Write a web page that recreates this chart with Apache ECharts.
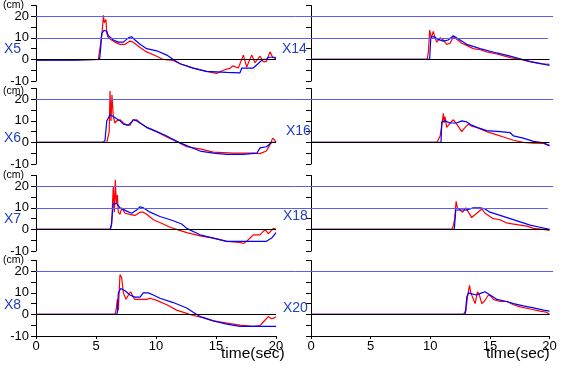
<!DOCTYPE html>
<html>
<head>
<meta charset="utf-8">
<script src="https://cdn.jsdelivr.net/npm/echarts@6/dist/echarts.min.js"></script>
<style>html,body{margin:0;padding:0;background:#fff}#c{width:562px;height:368px}</style>
</head>
<body>
<div id="c"></div>
<script>
// ---- data: [time (sec), displacement (cm)] ----
const x5Red = [[0,-0.3],[2,-0.2],[3.2,-0.2],[3.3,0],[5.2,0],[5.35,0.5],[5.5,12],[5.62,20.5],[5.7,17],[5.83,18.5],[5.9,12],[6.03,10],[6.3,9],[6.58,8],[7.0,7],[7.42,7],[7.83,8.5],[8.1,8],[8.67,5.5],[9.22,3.5],[10.06,1.5],[10.6,0],[11.44,-0.5],[12,-2],[13.1,-4],[14.2,-5.5],[15.06,-6.5],[15.6,-5],[16.2,-4],[16.4,-3],[16.86,-4],[17.28,2],[17.56,-3.5],[17.97,2],[18.25,-1.5],[18.67,1.5],[18.94,-1],[19.2,-1],[19.5,3.5],[19.72,1],[20,0.3]];
const x5Blue = [[0,-0.3],[3.2,-0.3],[3.25,0],[5.3,0],[5.4,6],[5.47,12],[5.67,13.5],[5.9,13],[6.03,11],[6.44,9],[6.86,8],[7.28,8],[7.69,10],[7.97,10.5],[8.25,9],[8.67,7],[9.22,5],[10.06,4],[10.9,2],[11.44,0],[12,-2],[13.1,-4],[14.2,-5.5],[15.9,-6],[17.0,-6.2],[17.15,-4],[18.1,-4],[18.5,-2],[18.9,0],[19.2,0],[19.36,1],[19.9,1],[20,0.5]];
const x14Red = [[0,0],[9.75,0],[9.85,4],[9.95,13.6],[10.1,10],[10.25,13],[10.4,10],[10.55,8],[10.83,10],[11.1,9],[11.38,7],[11.66,7.5],[11.94,10.5],[12.2,9.5],[12.64,7.5],[13.06,6.5],[13.6,5],[14.18,4.5],[14.74,3.5],[15.58,2.5],[16.7,0.8],[17.54,0],[18.38,-1],[19.2,-2],[20,-2.3]];
const x14Blue = [[0,0],[9.95,0],[10.05,10.5],[10.4,10.5],[10.55,9.5],[11.1,8.5],[11.5,9],[11.94,11],[12.5,9],[13.06,7],[14.18,5],[15.58,3],[16.7,1.5],[17.54,0.3],[18.38,-1],[19.2,-1.8],[20,-2.8]];
const x6Red = [[0,0],[5.9,0],[6.0,0.5],[6.1,5],[6.17,23.8],[6.25,10],[6.33,22],[6.44,12],[6.58,9],[6.72,10],[7.0,10.5],[7.28,9],[7.56,8],[7.83,8],[8.1,10.5],[8.39,10.5],[8.67,9],[9.22,7],[10.06,5],[10.9,2.5],[11.72,0.5],[12.56,-2],[13.67,-3],[14.78,-4.5],[16.44,-5],[18.1,-5],[18.67,-5.2],[19.2,-4],[19.5,-1],[19.72,2],[19.9,1],[20,0]];
const x6Blue = [[0,0],[5.6,0],[5.75,1],[5.9,10],[6.17,12.8],[6.44,12],[6.72,11],[7.0,10],[7.28,8.5],[7.7,8],[7.97,9.5],[8.1,10.5],[8.39,10],[8.67,9],[9.22,7],[10.06,5],[10.9,3],[11.72,0.5],[12.56,-1.5],[13.67,-4],[14.78,-5],[15.9,-5.5],[17.28,-5.5],[18.4,-5],[18.67,-2.5],[19.2,-2],[19.64,0],[20,0]];
const x16Red = [[0,0],[10.55,0],[10.7,0.5],[10.83,3],[10.97,8],[11.1,13.5],[11.16,9],[11.24,12],[11.38,7],[11.66,9],[11.94,10.5],[12.22,8.5],[12.64,5],[12.92,7],[13.2,8.5],[13.48,7.5],[13.9,7],[14.74,5],[15.58,3.5],[16.14,2.5],[16.98,1],[17.8,0],[18.66,-0.3],[19.5,-0.5],[20,-1.5]];
const x16Blue = [[0,0],[10.9,0],[10.97,9.5],[11.24,10],[11.66,9],[12.2,9],[12.64,10],[13.06,9.5],[13.48,8],[13.9,7],[14.74,5.5],[15.86,5],[16.7,4.5],[16.98,3],[17.8,2],[18.66,0.5],[19.5,-0.2],[20,-1.5]];
const x7Red = [[0,0],[6.17,0],[6.3,2],[6.44,20],[6.53,8],[6.61,23],[6.69,12],[6.78,16],[6.86,8],[7.0,7],[7.14,10],[7.28,9.5],[7.42,7.5],[7.83,7],[8.25,6.5],[8.67,8],[8.94,8],[9.22,7],[9.78,4.5],[10.6,2.5],[11.17,1],[11.72,0],[12.56,-1.5],[13.67,-3],[14.78,-4],[15.9,-5.5],[17.0,-6],[17.28,-6.5],[17.56,-5.5],[18.1,-2.5],[18.67,-2.5],[19.08,0],[19.36,-2],[19.78,0.5],[20,0]];
const x7Blue = [[0,0],[6.2,0],[6.3,3],[6.44,12],[6.72,12],[7.0,10],[7.56,8.5],[7.97,7.5],[8.39,9],[8.67,10.5],[8.94,10],[9.5,8],[10.33,6],[11.44,4],[12.14,2.5],[12.56,0.5],[13.67,-2.5],[14.78,-4],[15.9,-5.5],[17,-5.5],[19.2,-5.5],[19.64,-4],[20,-1.5]];
const x18Red = [[0,0],[11.8,0],[11.95,2],[12.05,5],[12.17,13],[12.28,10],[12.5,9],[12.72,8],[12.98,10],[13.2,8],[13.48,5.5],[13.9,7.5],[14.32,9.5],[14.6,7.5],[15.0,6],[15.3,5],[15.86,4.5],[16.4,3],[16.98,2.5],[17.54,2],[18.1,1.5],[18.66,0.5],[19.5,0],[20,-0.5]];
const x18Blue = [[0,0],[12.0,0],[12.03,1],[12.14,9],[12.5,9],[13.06,9],[13.6,10],[14.18,10],[14.6,9.5],[15.0,8],[15.86,6.5],[16.7,5],[17.54,3.5],[18.38,2],[19.2,1],[20,0]];
const x8Red = [[0,0],[6.58,0],[6.67,2],[6.78,7],[6.86,2],[7.0,18.5],[7.14,17],[7.28,10],[7.5,7],[7.7,9],[7.89,10.5],[8.1,8],[8.25,7],[8.67,7],[9.22,7],[9.5,7.5],[10.06,6.5],[10.9,4.5],[11.72,2],[12.56,0.5],[13.1,-0.5],[13.94,-1.5],[14.78,-3],[15.9,-4],[17.0,-5],[18.1,-5.5],[18.67,-5.2],[18.94,-3.5],[19.36,-1],[19.64,-2],[19.9,-1.5],[20,-1]];
const x8Blue = [[0,0],[6.72,0],[6.78,1],[6.86,10],[7.06,12],[7.42,11],[7.83,9],[8.25,8],[8.67,8],[8.94,10],[9.36,10],[9.78,9],[10.33,7.5],[11.44,5.5],[12.56,3],[13.1,1],[13.67,-1],[14.78,-3],[15.9,-4.5],[17,-5.5],[20,-5.5]];
const x20Red = [[0,0],[12.78,0],[12.85,0.5],[12.99,2],[13.12,8],[13.29,13.5],[13.4,10],[13.62,7],[13.76,5],[13.96,10.5],[14.12,9],[14.32,5],[14.52,6],[14.88,9],[15.08,8.5],[15.3,7],[15.86,6],[16.42,6],[16.98,4.5],[17.54,3.5],[18.38,2.5],[19.2,1.5],[19.76,1],[20,0]];
const x20Blue = [[0,0],[12.9,0],[12.96,1],[13.06,8],[13.2,10],[13.48,9.5],[13.9,9],[14.32,10],[14.6,10.5],[15.02,9],[15.58,7],[16.42,6],[16.98,5],[17.8,4],[18.66,3],[19.5,2],[20,1.5]];

const leftNames = ['X5','X6','X7','X8'];
const rightNames = ['X14','X16','X18','X20'];
const leftRed = [x5Red, x6Red, x7Red, x8Red];
const leftBlue = [x5Blue, x6Blue, x7Blue, x8Blue];
const rightRed = [x14Red, x16Red, x18Red, x20Red];
const rightBlue = [x14Blue, x16Blue, x18Blue, x20Blue];
const rowGridValues = [[20,10],[20],[20,10],[20]];
const xTicks = [0,5,10,15,20];
const yLabelValues = [-10,0,10,20];

// ---- layout ----
const rowTops = [5.5, 88.5, 175.5, 260.5];
const rowH = 75.5;
const colLeft = [36, 311];
const colW = [240, 238.5];
const FONT = 'Liberation Sans, Arial, sans-serif';

const grids = [], xAxes = [], yAxes = [], series = [], titles = [];

function addPanel(row, col, red, blue) {
  const gi = grids.length;
  grids.push({left: colLeft[col], top: rowTops[row], width: colW[col], height: rowH, containLabel: false});
  const bottom = row === 3;
  xAxes.push({
    gridIndex: gi, type: 'value', min: 0, max: 20, interval: 5, show: bottom, position: 'bottom',
    axisLine: {show: true, onZero: false, lineStyle: {color: '#000', width: 1}},
    axisTick: {show: true, length: 3, lineStyle: {color: '#000'}},
    axisLabel: {show: true, color: '#000', fontSize: 13, fontFamily: FONT, margin: 4,
      formatter: v => xTicks.includes(v) ? String(v) : ''},
    splitLine: {show: false}
  });
  yAxes.push({
    gridIndex: gi, type: 'value', min: -10, max: 25, interval: 5,
    axisLine: {show: true, onZero: false, lineStyle: {color: '#000', width: 1}},
    axisTick: {show: true, length: 5, lineStyle: {color: '#000'}},
    axisLabel: {show: col === 0, color: '#000', fontSize: 13, fontFamily: FONT, margin: 7,
      formatter: v => yLabelValues.includes(v) ? String(v) : ''},
    splitLine: {show: false}
  });
  series.push({
    type: 'line', xAxisIndex: gi, yAxisIndex: gi, data: red, showSymbol: false, z: 2,
    lineStyle: {color: '#ff0000', width: 1.2}, animation: false, silent: true,
    markLine: {symbol: 'none', silent: true, animation: false, label: {show: false},
      lineStyle: {color: '#000', type: 'solid', width: 1}, data: [{yAxis: 0}]}
  });
  series.push({
    type: 'line', xAxisIndex: gi, yAxisIndex: gi, data: blue, showSymbol: false, z: 3,
    lineStyle: {color: '#0000ff', width: 1.2}, animation: false, silent: true
  });
}

for (let r = 0; r < 4; r++) {
  addPanel(r, 0, leftRed[r], leftBlue[r]);
  addPanel(r, 1, rightRed[r], rightBlue[r]);
}
// full-width reference lines per row
for (let r = 0; r < 4; r++) {
  const gi = grids.length;
  grids.push({left: 36, top: rowTops[r], width: 517, height: rowH});
  xAxes.push({gridIndex: gi, type: 'value', min: 0, max: 1, show: false});
  yAxes.push({gridIndex: gi, type: 'value', min: -10, max: 25, show: false});
  const ml = rowGridValues[r].map(v => v === 20 ? {yAxis: v} : [{coord: [0, v]}, {coord: [0.99, v]}]);
  series.push({
    type: 'line', xAxisIndex: gi, yAxisIndex: gi, data: [[0, 0]], showSymbol: false, z: 1,
    lineStyle: {width: 0, opacity: 0}, animation: false, silent: true,
    markLine: {symbol: 'none', silent: true, animation: false, label: {show: false},
      lineStyle: {color: '#5c5cf0', type: 'solid', width: 1}, data: ml}
  });
}

function addText(text, left, top, size, color) {
  titles.push({text, left, top, padding: 0, itemGap: 0,
    textStyle: {fontSize: size, fontWeight: 'normal', color, fontFamily: FONT}});
}
const cmTops = [0, 86, 170, 255];
const leftLabelTops = [42, 131, 212, 298];
const rightLabelTops = [42, 124, 209, 301];
const rightLabelLefts = [282, 286, 283, 283];
for (let r = 0; r < 4; r++) {
  addText('(cm)', 3, cmTops[r], 10.5, '#000');
  addText(leftNames[r], 4, leftLabelTops[r], 14, '#2040c0');
  addText(rightNames[r], rightLabelLefts[r], rightLabelTops[r], 14, '#2040c0');
}
addText('time(sec)', 221, 346, 15.5, '#000');
addText('time(sec)', 486, 346, 15.5, '#000');

const chart = echarts.init(document.getElementById('c'), null, {renderer: 'canvas'});
chart.setOption({
  animation: false,
  backgroundColor: '#fff',
  title: titles,
  grid: grids,
  xAxis: xAxes,
  yAxis: yAxes,
  series: series
});
</script>
</body>
</html>
